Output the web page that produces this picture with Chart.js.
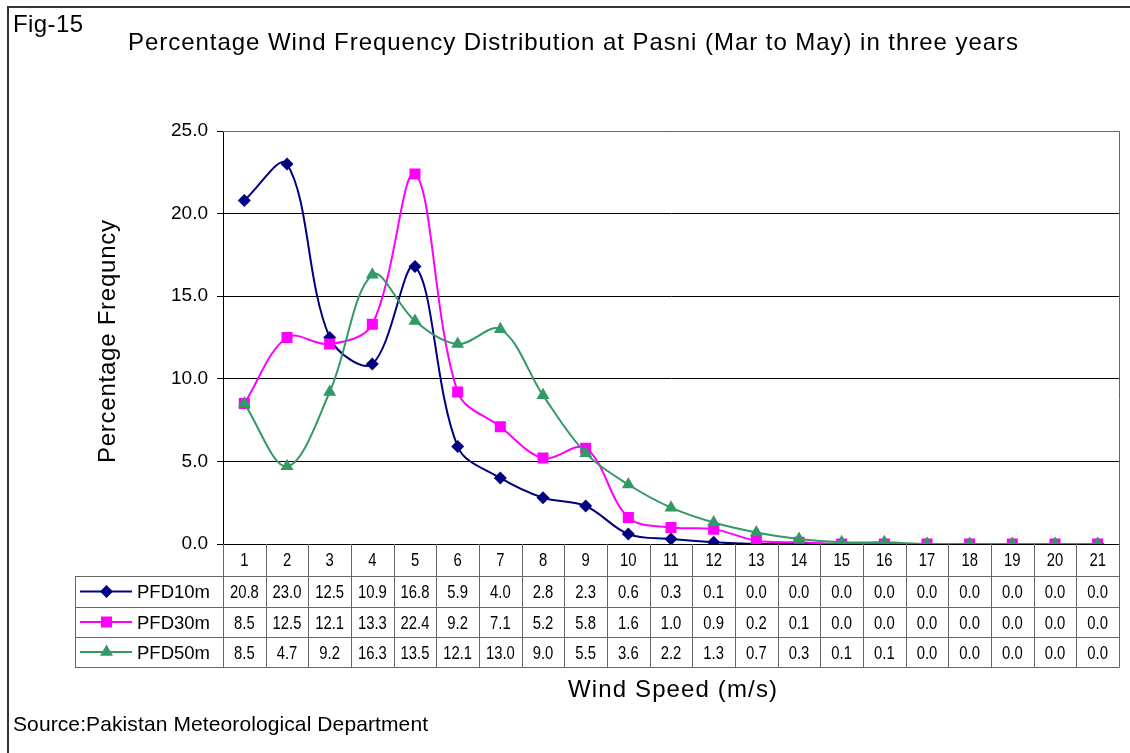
<!DOCTYPE html>
<html>
<head>
<meta charset="utf-8">
<script src="https://cdn.jsdelivr.net/npm/chart.js@4"></script>
<style>
  body { margin: 0; background: #fff; }
  #wrap { width: 1130px; height: 753px; }
</style>
</head>
<body>
<div id="wrap"><canvas id="windChart"></canvas></div>
<script>
const speeds = ['1','2','3','4','5','6','7','8','9','10','11','12','13','14','15','16','17','18','19','20','21'];
const pfd10 = [20.8, 23.0, 12.5, 10.9, 16.8, 5.9, 4.0, 2.8, 2.3, 0.6, 0.3, 0.1, 0.0, 0.0, 0.0, 0.0, 0.0, 0.0, 0.0, 0.0, 0.0];
const pfd30 = [8.5, 12.5, 12.1, 13.3, 22.4, 9.2, 7.1, 5.2, 5.8, 1.6, 1.0, 0.9, 0.2, 0.1, 0.0, 0.0, 0.0, 0.0, 0.0, 0.0, 0.0];
const pfd50 = [8.5, 4.7, 9.2, 16.3, 13.5, 12.1, 13.0, 9.0, 5.5, 3.6, 2.2, 1.3, 0.7, 0.3, 0.1, 0.1, 0.0, 0.0, 0.0, 0.0, 0.0];
const seriesNames = ['PFD10m', 'PFD30m', 'PFD50m'];
const yTicks = [0, 5, 10, 15, 20, 25];

const FONT = '"Liberation Sans", Arial, sans-serif';
const colors = ['#000080', '#ff00ff', '#339966'];
const styles = ['rectRot', 'rect', 'triangle'];
const radii = [6.5, 7.8, 7.5];

// draw text from its left end, stretched (letter spacing) or squeezed to a given width
function drawText(ctx, text, x, y, size, width, rot) {
  ctx.save();
  ctx.font = size + 'px ' + FONT;
  ctx.fillStyle = '#000';
  ctx.textAlign = 'left';
  ctx.textBaseline = 'alphabetic';
  ctx.translate(x, y);
  if (rot) ctx.rotate(rot);
  const m = ctx.measureText(text).width;
  if (width && m > width) {
    ctx.scale(width / m, 1);
  } else if (width && text.length > 1 && 'letterSpacing' in ctx) {
    ctx.letterSpacing = ((width - m) / (text.length - 1)) + 'px';
  }
  ctx.fillText(text, 0, 0);
  ctx.restore();
}

function cellText(ctx, text, cx, y) {
  ctx.save();
  ctx.font = '19px ' + FONT;
  ctx.fillStyle = '#000';
  ctx.textAlign = 'center';
  ctx.textBaseline = 'alphabetic';
  ctx.translate(cx, y);
  ctx.scale(0.78, 1);
  ctx.fillText(text, 0, 0);
  ctx.restore();
}

function keyMarker(ctx, style, x, y, r, color) {
  ctx.fillStyle = color;
  ctx.beginPath();
  if (style === 'rectRot') {
    ctx.moveTo(x, y - r); ctx.lineTo(x + r, y); ctx.lineTo(x, y + r); ctx.lineTo(x - r, y);
  } else if (style === 'rect') {
    const s = r * Math.SQRT1_2;
    ctx.rect(x - s, y - s, 2 * s, 2 * s);
  } else {
    ctx.moveTo(x, y - r);
    ctx.lineTo(x + r * Math.sin(2 * Math.PI / 3), y - r * Math.cos(2 * Math.PI / 3));
    ctx.lineTo(x + r * Math.sin(4 * Math.PI / 3), y - r * Math.cos(4 * Math.PI / 3));
  }
  ctx.closePath();
  ctx.fill();
}

const tablePlugin = {
  id: 'tablePlugin',
  afterDatasetsDraw(chart) {
    const ctx = chart.ctx;
    const area = chart.chartArea;
    const x = chart.scales.x;
    const half = (x.getPixelForValue(1) - x.getPixelForValue(0)) / 2;
    const rowTops = [area.bottom + 32, area.bottom + 63, area.bottom + 93];
    const tableBottom = area.bottom + 123;
    const legendLeft = 75;
    const series = [pfd10, pfd30, pfd50];

    ctx.save();
    // cover the lower half of markers sitting on the axis
    ctx.fillStyle = '#fff';
    ctx.fillRect(area.left + 1, area.bottom + 1, area.right - area.left, rowTops[0] - area.bottom);

    ctx.strokeStyle = '#666';
    ctx.lineWidth = 1;
    ctx.beginPath();
    // plot border top/right
    ctx.moveTo(area.left, area.top + 0.5); ctx.lineTo(area.right + 0.5, area.top + 0.5);
    ctx.lineTo(area.right + 0.5, tableBottom + 0.5);
    // column dividers
    speeds.forEach((s, i) => {
      const px = Math.round(x.getPixelForValue(i) - half) + 0.5;
      ctx.moveTo(px, area.bottom); ctx.lineTo(px, tableBottom);
    });
    // row lines
    rowTops.concat([tableBottom]).forEach(ry => {
      ctx.moveTo(legendLeft, ry + 0.5); ctx.lineTo(area.right + 0.5, ry + 0.5);
    });
    ctx.moveTo(legendLeft + 0.5, rowTops[0]); ctx.lineTo(legendLeft + 0.5, tableBottom);
    ctx.stroke();

    // header labels
    speeds.forEach((s, i) => cellText(ctx, s, x.getPixelForValue(i), area.bottom + 22));

    // series rows
    series.forEach((vals, r) => {
      const top = rowTops[r];
      const h = (r < 2 ? rowTops[r + 1] : tableBottom) - top;
      const cy = top + h / 2;
      ctx.strokeStyle = colors[r];
      ctx.lineWidth = 2;
      ctx.beginPath();
      ctx.moveTo(80, cy); ctx.lineTo(132, cy);
      ctx.stroke();
      keyMarker(ctx, styles[r], 106.5, cy, radii[r], colors[r]);
      drawText(ctx, seriesNames[r], 137, top + 22, 19, 73);
      vals.forEach((v, i) => cellText(ctx, v.toFixed(1), x.getPixelForValue(i), top + 22));
    });

    ctx.restore();
  },
  afterDraw(chart) {
    const ctx = chart.ctx;
    ctx.save();
    // outer frame
    ctx.strokeStyle = '#333';
    ctx.lineWidth = 2;
    ctx.beginPath();
    ctx.moveTo(8, 760); ctx.lineTo(8, 7); ctx.lineTo(1140, 7);
    ctx.stroke();
    ctx.restore();

    drawText(ctx, 'Fig-15', 13, 32, 24, 70);
    drawText(ctx, 'Percentage Wind Frequency Distribution at Pasni (Mar to May) in three years', 128, 50, 24, 890);
    drawText(ctx, 'Percentage Frequncy', 115, 463, 24, 243, -Math.PI / 2);
    drawText(ctx, 'Wind Speed (m/s)', 568, 697, 24, 209);
    drawText(ctx, 'Source:Pakistan Meteorological Department', 13, 731, 21, 415);
  }
};

const ctx = document.getElementById('windChart').getContext('2d');
new Chart(ctx, {
  type: 'line',
  data: {
    labels: speeds,
    datasets: [pfd10, pfd30, pfd50].map((vals, i) => ({
      label: seriesNames[i],
      data: vals,
      borderColor: colors[i],
      backgroundColor: colors[i],
      borderWidth: 2,
      pointStyle: styles[i],
      pointRadius: radii[i],
      pointBorderWidth: 0,
      pointBackgroundColor: colors[i],
      tension: 0.35,
      fill: false,
      order: 3 - i
    }))
  },
  options: {
    responsive: true,
    maintainAspectRatio: false,
    animation: false,
    layout: { padding: { left: 0, top: 131, right: 11, bottom: 209 } },
    plugins: {
      legend: { display: false },
      tooltip: { enabled: false },
      title: { display: false }
    },
    scales: {
      x: {
        type: 'category',
        offset: true,
        display: false
      },
      y: {
        min: 0,
        max: 25,
        afterFit(scale) { scale.width = 223; },
        afterBuildTicks(scale) { scale.ticks = yTicks.map(v => ({ value: v })); },
        ticks: {
          callback: v => v.toFixed(1),
          color: '#000',
          font: { family: FONT, size: 19 },
          padding: 9
        },
        grid: { color: '#000', lineWidth: 1, tickLength: 6, drawTicks: true },
        border: { display: true, color: '#000', width: 1 }
      }
    }
  },
  plugins: [tablePlugin]
});
</script>
</body>
</html>
